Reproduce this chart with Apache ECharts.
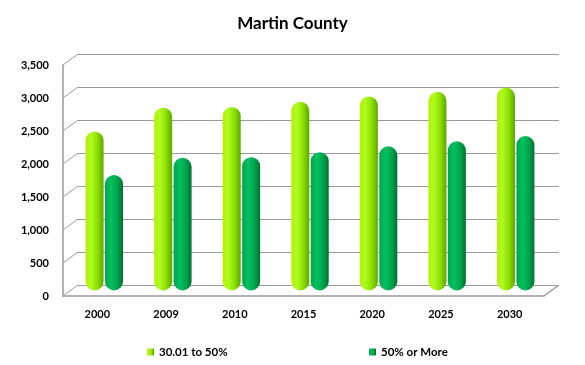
<!DOCTYPE html>
<html>
<head>
<meta charset="utf-8">
<script src="https://cdn.jsdelivr.net/npm/echarts@6/dist/echarts.min.js"></script>
<style>html,body{margin:0;padding:0;background:#fff}#c{width:585px;height:365px}</style>
</head>
<body>
<div id="c"></div>
<script>
var categories = ['2000', '2009', '2010', '2015', '2020', '2025', '2030'];
var seriesNames = ['30.01 to 50%', '50% or More'];
var low = [2410, 2770, 2780, 2860, 2940, 3010, 3075];
var high = [1750, 2010, 2020, 2095, 2185, 2260, 2340];
var yTicks = [0, 500, 1000, 1500, 2000, 2500, 3000, 3500];

var FONT = 'Lato, "Open Sans", sans-serif';
var chart = echarts.init(document.getElementById('c'), null, {renderer: 'canvas'});

var lightGrad = new echarts.graphic.LinearGradient(0, 0, 1, 0, [
  {offset: 0, color: '#b8f000'}, {offset: 0.3, color: '#aefc22'},
  {offset: 0.65, color: '#8ee000'}, {offset: 1, color: '#5aa800'}]);
var darkGrad = new echarts.graphic.LinearGradient(0, 0, 1, 0, [
  {offset: 0, color: '#00a54c'}, {offset: 0.35, color: '#00c060'},
  {offset: 0.7, color: '#00a24c'}, {offset: 1, color: '#00702c'}]);

chart.setOption({
  animation: false,
  title: {text: 'Martin County', left: 'center', top: 10,
    textStyle: {fontFamily: FONT, fontWeight: 'bold', fontSize: 17, color: '#000'}},
  legend: [
    {data: [seriesNames[0]], left: 142, top: 341, itemWidth: 7, itemHeight: 7, itemGap: 4,
      icon: 'rect', textStyle: {fontFamily: FONT, fontWeight: 'bold', fontSize: 11.5, color: '#000'}},
    {data: [seriesNames[1]], left: 364, top: 341, itemWidth: 7, itemHeight: 7, itemGap: 4,
      icon: 'rect', textStyle: {fontFamily: FONT, fontWeight: 'bold', fontSize: 11.5, color: '#000'}}
  ],
  grid: [
    {left: 78, top: 54, width: 481, height: 231},   // back wall
    {left: 63, top: 65, width: 481, height: 231},   // front edge
    {left: 70, top: 59.5, width: 480, height: 231}  // bars (mid depth)
  ],
  xAxis: [
    {gridIndex: 0, type: 'category', data: categories, show: false},
    {gridIndex: 1, type: 'category', data: categories,
      axisLine: {show: true, lineStyle: {color: '#9a9a9a', width: 1.5}},
      axisTick: {show: false},
      axisLabel: {margin: 13, fontFamily: FONT, fontWeight: 'bold', fontSize: 11, color: '#000'}},
    {gridIndex: 2, type: 'category', data: categories, show: false}
  ],
  yAxis: [
    {gridIndex: 0, type: 'value', min: 0, max: 3500, interval: 500,
      axisLine: {show: false}, axisTick: {show: false}, axisLabel: {show: false},
      splitLine: {show: true, lineStyle: {color: '#9a9a9a', width: 1}}},
    {gridIndex: 1, type: 'value', min: 0, max: 3500, interval: 500,
      axisLine: {show: true, lineStyle: {color: '#9a9a9a', width: 1.5}},
      axisTick: {show: false}, splitLine: {show: false},
      axisLabel: {margin: 14, padding: [5, 0, 0, 0], fontFamily: FONT, fontWeight: 'bold', fontSize: 11, color: '#000',
        formatter: function (v) { return v.toLocaleString('en-US'); }}},
    {gridIndex: 2, type: 'value', min: 0, max: 3500, interval: 500, show: false}
  ],
  series: [
    {
      type: 'custom', xAxisIndex: 0, yAxisIndex: 0, silent: true, z: 1,
      data: yTicks.map(function (v) { return [0, v]; }),
      renderItem: function (params, api) {
        var cs = params.coordSys;
        var y = api.coord([0, api.value(1)])[1];
        var style = {stroke: '#9a9a9a', lineWidth: 1};
        var children = [{type: 'line', shape: {x1: cs.x, y1: y, x2: cs.x - 15, y2: y + 11}, style: style}];
        if (api.value(1) === 0) {
          children.push({type: 'line',
            shape: {x1: cs.x + cs.width, y1: y, x2: cs.x + cs.width - 15, y2: y + 11},
            style: {stroke: '#9a9a9a', lineWidth: 1.5}});
        }
        return {type: 'group', children: children};
      }
    },
    {
      name: seriesNames[0], type: 'bar', xAxisIndex: 2, yAxisIndex: 2, data: low,
      barWidth: 18, barGap: '8%', z: 3,
      itemStyle: {color: lightGrad, borderRadius: [9, 9, 9, 9]}
    },
    {
      name: seriesNames[1], type: 'bar', xAxisIndex: 2, yAxisIndex: 2, data: high,
      barWidth: 18, barGap: '8%', z: 3,
      itemStyle: {color: darkGrad, borderRadius: [9, 9, 9, 9]}
    }
  ]
});
</script>
</body>
</html>
